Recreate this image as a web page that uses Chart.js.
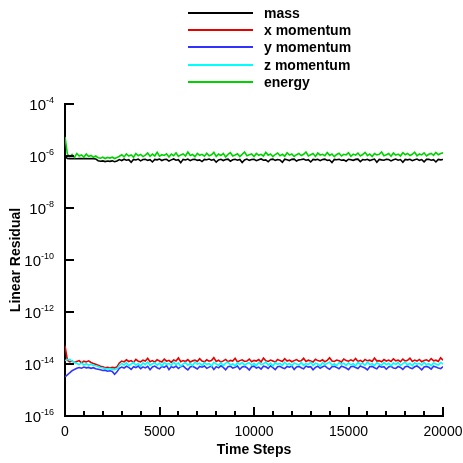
<!DOCTYPE html>
<html>
<head>
<meta charset="utf-8">
<script src="https://cdn.jsdelivr.net/npm/chart.js@4/dist/chart.umd.min.js"></script>
<style>
  body { margin: 0; background: #fff; }
  #wrap { position: relative; width: 463px; height: 463px; }
  #legend { position: absolute; left: 188px; top: 4px; font: bold 14px "Liberation Sans", Arial, sans-serif; color: #000; }
  .item { height: 17.4px; display: flex; align-items: center; }
  .swatch { width: 65px; height: 2px; margin-right: 11px; }
</style>
</head>
<body>
<div id="wrap">
  <canvas id="residualChart" width="463" height="463"></canvas>
  <div id="legend"></div>
</div>
<script>
// time steps (x), one sample every 125 steps
const steps = Array.from({length: 161}, (_, i) => i * 125);

// residuals (mantissas, scaled below), rows of 20 samples
const massRaw = [ // x 1e-7
  9.5, 8.1, 7.9, 8.0, 7.9, 7.8, 8.0, 7.9, 7.8, 7.9, 7.8, 7.9, 7.8, 7.7, 6.6, 6.3, 6.5, 6.1, 6.4, 6.2,
  6.5, 6.0, 6.4, 7.3, 6.7, 7.5, 6.9, 7.2, 5.7, 7.4, 7.0, 7.6, 6.5, 7.3, 7.5, 6.8, 7.2, 5.9, 7.4, 7.1,
  7.6, 6.7, 7.3, 7.5, 6.4, 7.1, 7.7, 6.9, 7.2, 5.5, 7.4, 7.0, 7.6, 6.6, 7.3, 7.5, 6.8, 7.1, 6.1, 7.4,
  7.2, 7.6, 6.9, 7.4, 5.8, 7.1, 7.5, 6.7, 7.3, 7.6, 6.3, 7.2, 7.5, 6.9, 7.4, 5.6, 7.0, 7.6, 6.8, 7.3,
  7.5, 6.6, 7.2, 7.7, 6.9, 7.1, 6.0, 7.4, 7.6, 6.8, 7.3, 7.0, 5.7, 7.5, 7.2, 6.7, 7.4, 7.6, 6.4, 7.1,
  7.3, 7.6, 6.9, 7.2, 5.9, 7.4, 7.1, 7.5, 6.6, 7.3, 7.6, 6.8, 7.0, 5.6, 7.4, 7.2, 7.5, 6.9, 7.1, 6.3,
  7.5, 7.2, 6.8, 7.4, 7.6, 6.1, 7.3, 7.0, 7.5, 6.7, 7.2, 7.6, 5.8, 7.4, 7.1, 6.9, 7.5, 7.3, 6.5, 7.2,
  7.6, 6.9, 7.3, 5.7, 7.4, 7.1, 7.5, 6.6, 7.2, 7.6, 6.8, 7.3, 6.0, 7.4, 7.5, 6.9, 7.2, 5.9, 7.4, 7.1,
  7.3];
const xMomRaw = [ // x 1e-14
  5.0, 1.4, 1.2, 1.3, 1.15, 1.25, 1.35, 1.1, 1.28, 1.2, 1.32, 1.15, 1.05, 0.98, 0.9, 0.82, 0.78, 0.72, 0.75, 0.7,
  0.74, 0.71, 0.78, 1.1, 1.3, 1.2, 1.45, 1.25, 1.35, 1.15, 1.5, 1.28, 1.2, 1.4, 1.3, 1.65, 1.22, 1.35, 1.18, 1.45,
  1.3, 1.2, 1.55, 1.28, 1.38, 1.15, 1.42, 1.3, 1.7, 1.22, 1.35, 1.25, 1.48, 1.18, 1.32, 1.4, 1.25, 1.6, 1.3, 1.2,
  1.45, 1.28, 1.35, 1.75, 1.25, 1.4, 1.18, 1.32, 1.5, 1.22, 1.38, 1.3, 1.65, 1.2, 1.35, 1.45, 1.25, 1.3, 1.55, 1.22,
  1.38, 1.3, 1.48, 1.2, 1.7, 1.32, 1.25, 1.42, 1.3, 1.18, 1.5, 1.35, 1.25, 1.6, 1.3, 1.4, 1.22, 1.35, 1.48, 1.28,
  1.32, 1.65, 1.25, 1.4, 1.3, 1.2, 1.52, 1.35, 1.28, 1.45, 1.22, 1.38, 1.75, 1.3, 1.25, 1.42, 1.32, 1.2, 1.55, 1.35,
  1.28, 1.45, 1.3, 1.62, 1.25, 1.38, 1.2, 1.5, 1.32, 1.4, 1.25, 1.7, 1.3, 1.35, 1.22, 1.48, 1.3, 1.42, 1.25, 1.58,
  1.32, 1.4, 1.22, 1.55, 1.3, 1.38, 1.68, 1.25, 1.42, 1.3, 1.5, 1.22, 1.35, 1.45, 1.28, 1.62, 1.32, 1.4, 1.25, 1.72,
  1.4];
const yMomRaw = [ // x 1e-15
  3.2, 3.8, 4.6, 5.5, 6.2, 6.8, 7.3, 6.9, 7.6, 7.1, 7.4, 6.8, 7.2, 6.6, 6.3, 6.0, 5.6, 5.8, 5.3, 5.5,
  5.2, 4.0, 5.0, 6.8, 7.6, 7.0, 8.2, 7.4, 6.2, 7.9, 7.3, 8.4, 6.6, 7.8, 7.1, 8.1, 6.0, 7.7, 8.3, 7.2,
  6.5, 8.0, 7.4, 8.6, 6.1, 7.8, 7.2, 8.3, 6.7, 7.9, 8.5, 7.0, 5.9, 7.7, 8.2, 7.3, 6.4, 8.0, 7.5, 8.4,
  6.8, 7.6, 8.3, 6.2, 7.9, 7.1, 8.5, 7.4, 6.0, 7.8, 8.2, 6.9, 7.5, 8.4, 6.3, 7.7, 8.1, 7.2, 5.9, 7.9,
  8.3, 7.0, 7.6, 6.4, 8.2, 7.8, 6.7, 8.5, 7.3, 6.1, 7.9, 8.2, 7.1, 6.6, 8.0, 7.5, 8.4, 6.2, 7.7, 8.1,
  7.2, 6.5, 8.3, 7.6, 7.9, 6.0, 7.4, 8.2, 6.8, 7.8, 8.5, 7.1, 6.3, 7.9, 8.1, 7.4, 6.6, 8.3, 7.7, 7.0,
  6.1, 7.8, 8.2, 7.3, 6.7, 8.4, 7.6, 7.0, 5.9, 7.9, 8.1, 7.2, 6.5, 8.3, 7.5, 7.9, 6.3, 7.7, 8.2, 7.0,
  6.8, 8.0, 7.4, 6.2, 7.9, 8.3, 7.1, 6.6, 7.8, 8.4, 7.3, 6.0, 7.7, 8.1, 7.5, 6.4, 8.2, 7.6, 7.0, 6.7,
  7.9];
const zMomRaw = [ // x 1e-14
  1.35, 1.45, 1.5, 1.3, 1.15, 1.05, 0.95, 1.1, 0.92, 1.02, 0.9, 0.98, 0.88, 0.85, 0.8, 0.74, 0.7, 0.67, 0.64, 0.66,
  0.62, 0.6, 0.66, 0.88, 1.05, 0.92, 1.12, 0.86, 1.0, 1.15, 0.9, 1.05, 0.84, 1.1, 0.95, 1.2, 0.88, 1.02, 1.12, 0.9,
  1.08, 0.85, 1.15, 0.96, 1.05, 0.88, 1.18, 0.94, 1.1, 0.82, 1.02, 1.14, 0.9, 1.06, 0.86, 1.2, 0.97, 1.08, 0.88, 1.12,
  0.95, 1.05, 0.84, 1.15, 1.0, 0.9, 1.12, 0.86, 1.08, 1.18, 0.92, 1.02, 0.85, 1.1, 0.96, 1.16, 0.88, 1.04, 1.12, 0.9,
  1.06, 0.87, 1.14, 0.95, 1.02, 1.2, 0.9, 1.08, 0.84, 1.12, 0.97, 1.05, 0.88, 1.16, 0.93, 1.04, 0.86, 1.1, 1.0, 0.92,
  1.15, 0.89, 1.04, 0.96, 1.18, 0.87, 1.08, 1.0, 0.85, 1.12, 0.94, 1.06, 1.2, 0.9, 1.02, 0.86, 1.14, 0.98, 1.08, 0.88,
  1.1, 0.93, 1.05, 0.84, 1.16, 0.97, 1.06, 0.89, 1.2, 0.95, 1.03, 0.87, 1.12, 1.0, 0.9, 1.15, 0.94, 1.06, 0.86, 1.1,
  0.96, 1.14, 0.88, 1.04, 1.18, 0.92, 1.07, 0.85, 1.12, 0.98, 1.05, 0.9, 1.16, 0.94, 1.02, 0.87, 1.1, 1.0, 0.92, 1.15,
  1.0];
const energyRaw = [ // x 1e-6
  5.4, 1.2, 0.95, 1.15, 0.88, 1.25, 1.0, 1.1, 0.9, 1.2, 0.95, 1.05, 0.9, 1.0, 0.86, 0.82, 0.9, 0.8, 0.88, 0.83,
  0.9, 0.8, 0.87, 0.98, 1.12, 0.92, 1.2, 1.0, 1.1, 0.9, 1.25, 1.02, 1.15, 0.95, 1.08, 1.3, 0.97, 1.18, 1.0, 1.38,
  0.98, 1.12, 1.05, 1.22, 0.92, 1.18, 1.02, 1.32, 0.96, 1.1, 1.2, 1.0, 1.42, 1.04, 1.15, 0.94, 1.26, 1.06, 1.16, 0.98,
  1.28, 1.02, 1.12, 1.38, 0.96, 1.18, 1.04, 1.25, 0.92, 1.15, 1.34, 1.0, 1.1, 1.22, 0.95, 1.16, 1.42, 1.02, 1.12, 1.2,
  0.96, 1.26, 1.06, 1.16, 1.0, 1.38, 1.08, 1.2, 0.94, 1.14, 1.3, 1.02, 1.16, 0.98, 1.34, 1.08, 1.2, 0.96, 1.12, 1.25,
  1.04, 1.16, 1.42, 1.0, 1.12, 1.24, 0.96, 1.3, 1.08, 1.16, 1.02, 1.36, 1.06, 1.2, 0.94, 1.14, 1.28, 1.0, 1.16, 1.1,
  1.34, 0.98, 1.18, 1.08, 1.3, 1.0, 1.14, 1.38, 1.04, 1.2, 0.96, 1.25, 1.1, 1.16, 1.42, 1.02, 1.12, 1.24, 0.98, 1.3,
  1.08, 1.18, 1.0, 1.34, 1.12, 1.25, 1.04, 1.16, 1.4, 1.02, 1.2, 1.1, 1.32, 1.0, 1.16, 1.26, 1.06, 1.38, 1.12, 1.24,
  1.32];

const mass = massRaw.map(v => v * 1e-7);
const xMom = xMomRaw.map(v => v * 1e-14);
const yMom = yMomRaw.map(v => v * 1e-15);
const zMom = zMomRaw.map(v => v * 1e-14);
const energy = energyRaw.map(v => v * 1e-6);

const seriesNames = ['mass', 'x momentum', 'y momentum', 'z momentum', 'energy'];
const yTickExponents = [-16, -14, -12, -10, -8, -6, -4];
const xTickLabels = [0, 5000, 10000, 15000, 20000];

const FONT = '"Liberation Sans", Arial, sans-serif';

function pts(vals) {
  return steps.map((s, i) => ({x: s, y: vals[i]}));
}

// tecplot style: ticks drawn inward, y labels as 10 with a raised exponent
const axisDecor = {
  id: 'axisDecor',
  afterDraw(chart) {
    const {ctx, chartArea, scales} = chart;
    ctx.save();
    ctx.strokeStyle = '#000';
    ctx.lineWidth = 2;
    ctx.beginPath();
    scales.x.ticks.forEach(t => {
      const px = Math.round(scales.x.getPixelForValue(t.value));
      const len = xTickLabels.includes(t.value) ? 9 : 5;
      ctx.moveTo(px, chartArea.bottom);
      ctx.lineTo(px, chartArea.bottom - len);
    });
    scales.y.ticks.forEach(t => {
      const py = Math.round(scales.y.getPixelForValue(t.value));
      ctx.moveTo(chartArea.left, py);
      ctx.lineTo(chartArea.left + 9, py);
    });
    ctx.stroke();

    ctx.fillStyle = '#000';
    ctx.textAlign = 'left';
    ctx.textBaseline = 'alphabetic';
    const right = chartArea.left - 11;
    scales.y.ticks.forEach(t => {
      const py = scales.y.getPixelForValue(t.value);
      const exp = String(Math.round(Math.log10(t.value)));
      ctx.font = '15px ' + FONT;
      const wBase = ctx.measureText('10').width;
      ctx.font = '9px ' + FONT;
      const wExp = ctx.measureText(exp).width;
      ctx.font = '15px ' + FONT;
      ctx.fillText('10', right - wExp - wBase, py + 6.4);
      ctx.font = '9px ' + FONT;
      ctx.fillText(exp, right - wExp, py - 1);
    });
    ctx.restore();
  }
};

const colors = ['#000000', '#e60000', '#3232ff', '#00ffff', '#00d200'];
const values = [mass, xMom, yMom, zMom, energy];
const order = [4, 3, 2, 1, 0];

let ctx = document.getElementById('residualChart').getContext('2d');
let residualChart = new Chart(ctx, {
  type: 'line',
  data: {
    datasets: seriesNames.map((name, i) => ({
      label: name,
      data: pts(values[i]),
      borderColor: colors[i],
      borderWidth: 1.6,
      pointRadius: 0,
      tension: 0,
      order: order[i]
    }))
  },
  options: {
    responsive: false,
    animation: false,
    layout: { padding: { top: 104, left: 0, right: 20, bottom: 0 } },
    plugins: { legend: { display: false }, tooltip: { enabled: false } },
    scales: {
      x: {
        type: 'linear',
        min: 0,
        max: 20000,
        grid: { drawOnChartArea: false, drawTicks: false },
        border: { color: '#000', width: 2 },
        ticks: {
          stepSize: 1000,
          autoSkip: false,
          maxRotation: 0,
          padding: 8,
          color: '#000',
          font: { family: FONT, size: 14 },
          callback: v => xTickLabels.includes(v) ? String(v) : ''
        },
        title: {
          display: true,
          text: 'Time Steps',
          color: '#000',
          font: { family: FONT, size: 14, weight: 'bold' },
          padding: { top: 0, bottom: 4 }
        },
        afterFit: s => { s.height = 47; s.paddingLeft = 0; s.paddingRight = 0; }
      },
      y: {
        type: 'logarithmic',
        min: 1e-16,
        max: 1e-4,
        grid: { drawOnChartArea: false, drawTicks: false },
        border: { color: '#000', width: 2 },
        afterBuildTicks: s => { s.ticks = yTickExponents.map(e => ({value: Math.pow(10, e)})); },
        ticks: { display: false },
        title: {
          display: true,
          text: 'Linear Residual',
          color: '#000',
          font: { family: FONT, size: 14, weight: 'bold' },
          padding: { top: 8, bottom: 0 }
        },
        afterFit: s => { s.width = 65; s.paddingTop = 0; s.paddingBottom = 0; }
      }
    }
  },
  plugins: [axisDecor]
});

// stacked legend like the original
let legend = document.getElementById('legend');
seriesNames.forEach((name, i) => {
  let row = document.createElement('div');
  row.className = 'item';
  row.innerHTML = '<span class="swatch" style="background:' + colors[i] + '"></span>' + name;
  legend.appendChild(row);
});
</script>
</body>
</html>
